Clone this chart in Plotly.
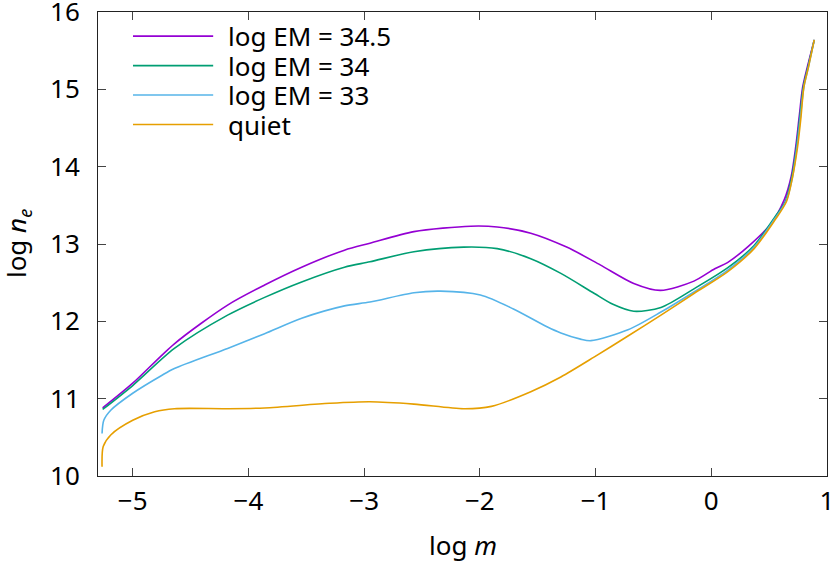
import plotly.graph_objects as go

# log EM = 34.5
x_em345 = [-5.26, -5.0, -4.64, -4.18, -3.86, -3.54, -3.17, -2.95, -2.57, -2.08, -1.85, -1.56, -1.25, -0.96,
           -0.67, -0.44, -0.15, 0.03, 0.14, 0.32, 0.52, 0.63, 0.69, 0.73, 0.76, 0.79, 0.83, 0.89]
y_em345 = [10.88, 11.20, 11.71, 12.21, 12.47, 12.70, 12.92, 13.01, 13.16, 13.23, 13.22, 13.14, 12.96, 12.73,
           12.49, 12.40, 12.52, 12.68, 12.76, 12.97, 13.27, 13.57, 13.87, 14.26, 14.65, 15.03, 15.29, 15.64]

# log EM = 34
x_em34 = [-5.26, -5.0, -4.64, -4.18, -3.86, -3.54, -3.17, -2.95, -2.57, -2.14, -1.85, -1.56, -1.30, -1.01,
          -0.85, -0.67, -0.435, -0.15, 0.14, 0.37, 0.55, 0.64, 0.695, 0.735, 0.765, 0.795, 0.835, 0.89]
y_em34 = [10.86, 11.17, 11.65, 12.08, 12.31, 12.51, 12.70, 12.77, 12.90, 12.96, 12.94, 12.81, 12.62, 12.36,
          12.22, 12.13, 12.18, 12.42, 12.69, 12.98, 13.35, 13.55, 13.86, 14.25, 14.64, 15.03, 15.29, 15.64]

# log EM = 33
x_em33 = [-5.265, -5.25, -5.19, -5.0, -4.75, -4.64, -4.18, -3.86, -3.54, -3.17, -2.95, -2.57, -2.34, -1.995,
          -1.71, -1.42, -1.30, -1.13, -1.04, -0.72, -0.435, -0.15, 0.14, 0.37, 0.55, 0.645, 0.70, 0.74,
          0.77, 0.80, 0.84, 0.89]
y_em33 = [10.55, 10.72, 10.85, 11.07, 11.30, 11.39, 11.65, 11.84, 12.04, 12.20, 12.25, 12.37, 12.39, 12.34,
          12.16, 11.93, 11.85, 11.77, 11.75, 11.89, 12.12, 12.38, 12.66, 12.96, 13.33, 13.55, 13.85, 14.25,
          14.64, 15.03, 15.29, 15.64]

# quiet
x_quiet = [-5.265, -5.255, -5.19, -5.0, -4.81, -4.64, -4.18, -3.86, -3.3, -2.95, -2.57, -2.14, -1.90, -1.56,
           -1.30, -1.01, -0.72, -0.435, -0.15, 0.14, 0.37, 0.55, 0.65, 0.70, 0.745, 0.775, 0.80, 0.84, 0.89]
y_quiet = [10.12, 10.38, 10.53, 10.72, 10.83, 10.87, 10.87, 10.88, 10.94, 10.96, 10.93, 10.87, 10.90, 11.09,
           11.28, 11.54, 11.81, 12.08, 12.36, 12.64, 12.94, 13.31, 13.55, 13.85, 14.25, 14.64, 15.03, 15.29, 15.64]

names = ['log EM = 34.5', 'log EM = 34', 'log EM = 33', 'quiet']
colors = ['#9400D3', '#009E73', '#56B4E9', '#E69F00']
xs_all = [x_em345, x_em34, x_em33, x_quiet]
ys_all = [y_em345, y_em34, y_em33, y_quiet]

font_family = 'Noto Sans'
fsize = 26
txt_font = dict(family=font_family, size=fsize, color='black')

traces = [go.Scatter(x=xs, y=ys, mode='lines', name=name, showlegend=False,
                     line=dict(color=col, width=1.6, shape='spline', smoothing=0.8))
          for name, xs, ys, col in zip(names, xs_all, ys_all, colors)]

axis_common = dict(showline=True, linecolor='#222', linewidth=1, mirror='allticks',
                   ticks='inside', ticklen=8, tickcolor='#444', showgrid=False, zeroline=False,
                   automargin=False, ticklabeloverflow='allow', tickfont=txt_font)

# legend drawn by hand, top left inside the frame
shapes = []
annotations = []
for i, (name, col) in enumerate(zip(names, colors)):
    yy = 0.948 - i * 0.0635
    shapes.append(dict(type='line', xref='paper', yref='paper', x0=0.048, x1=0.158, y0=yy, y1=yy,
                       line=dict(color=col, width=1.6)))
    annotations.append(dict(xref='paper', yref='paper', x=0.176, y=yy, xanchor='left', yanchor='middle',
                            text=name, showarrow=False, font=txt_font))

annotations.append(dict(xref='paper', yref='paper', x=0.5, y=-0.148, xanchor='center', yanchor='middle',
                        text='log <i>m</i>', showarrow=False, font=txt_font))
annotations.append(dict(xref='paper', yref='paper', x=-0.111, y=0.5, xanchor='center', yanchor='middle',
                        text='log <i>n</i><sub><i>e</i></sub>', showarrow=False, textangle=-90,
                        font=txt_font))

layout = go.Layout(
    width=832, height=563,
    margin=dict(l=98, r=5, t=12, b=87),
    plot_bgcolor='white', paper_bgcolor='white',
    xaxis=dict(range=[-5.3, 1.0], dtick=1, tick0=0, ticklabelstandoff=2, **axis_common),
    yaxis=dict(range=[10, 16], dtick=1, ticklabelstandoff=12, **axis_common),
    shapes=shapes,
    annotations=annotations,
    showlegend=False,
)

fig = go.Figure(data=traces, layout=layout)
fig.write_html('out.html', config={'displayModeBar': False},
               post_script="document.body.style.margin='0';")
